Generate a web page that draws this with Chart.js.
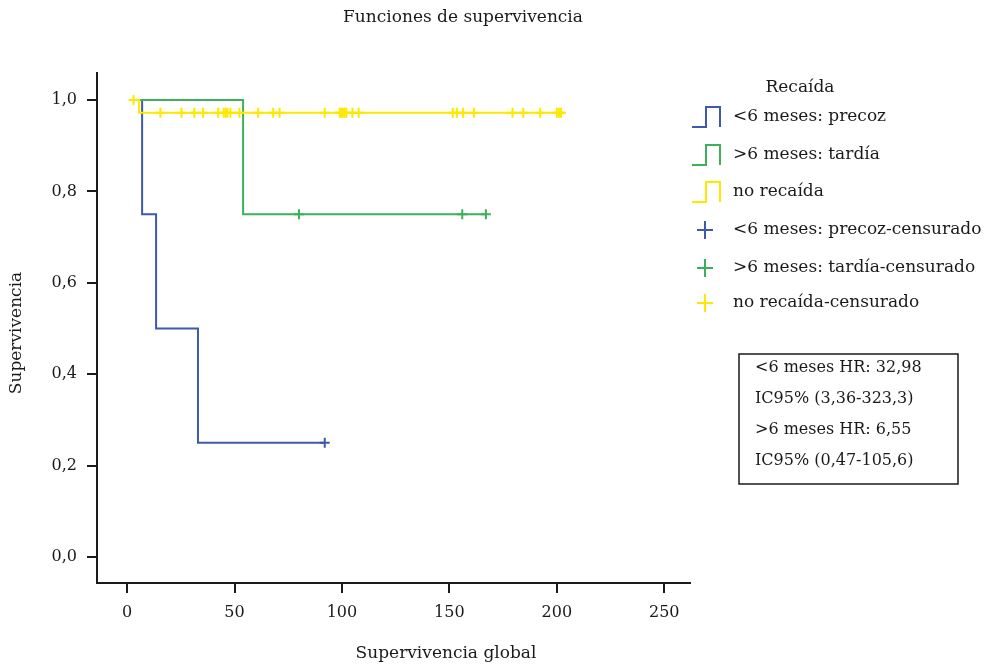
<!DOCTYPE html>
<html>
<head>
<meta charset="utf-8">
<script src="https://cdn.jsdelivr.net/npm/chart.js@4.4.0/dist/chart.umd.min.js"></script>
<style>
  html, body { margin: 0; padding: 0; background: #fff; }
  #wrap { width: 992px; height: 665px; }
</style>
</head>
<body>
<div id="wrap"><canvas id="km" width="992" height="665"></canvas></div>
<script>
// Kaplan-Meier steps
const precozTime = [7, 7, 13.5, 33, 92];
const precozSurv = [1, 0.75, 0.5, 0.25, 0.25];
const tardiaTime = [6, 54, 167];
const tardiaSurv = [1, 0.75, 0.75];
const noRecaidaTime = [3, 5.6, 203.5];
const noRecaidaSurv = [1, 0.972, 0.972];

// censored cases
const precozCensTime = [92];
const precozCensSurv = [0.25];
const tardiaCensTime = [80, 156, 167];
const tardiaCensSurv = [0.75, 0.75, 0.75];
const noRecaidaCensTime = [3, 15.5, 25.3, 31.3, 35.4, 42.4, 45, 45.9, 46.7, 48.1, 52.3, 61, 68, 71,
  92, 99, 99.7, 100.4, 101.2, 102, 104.9, 107.8, 151.6, 153.5, 156.4, 161.4, 179.4, 184.4, 192.3,
  200, 201, 202];
const noRecaidaCensSurv = [1, 0.972, 0.972, 0.972, 0.972, 0.972, 0.972, 0.972, 0.972, 0.972, 0.972,
  0.972, 0.972, 0.972, 0.972, 0.972, 0.972, 0.972, 0.972, 0.972, 0.972, 0.972, 0.972, 0.972, 0.972,
  0.972, 0.972, 0.972, 0.972, 0.972, 0.972, 0.972];

const xTicks = [0, 50, 100, 150, 200, 250];
const yTicks = [0, 0.2, 0.4, 0.6, 0.8, 1.0];

const legendTitle = 'Recaída';
const legendLabels = ['<6 meses: precoz', '>6 meses: tardía', 'no recaída',
  '<6 meses: precoz-censurado', '>6 meses: tardía-censurado', 'no recaída-censurado'];
const hrLines = ['<6 meses HR: 32,98', 'IC95% (3,36-323,3)', '>6 meses HR: 6,55', 'IC95% (0,47-105,6)'];

const BLUE = '#3f5aaa';
const GREEN = '#3cb15a';
const YELLOW = '#fde800';
const INK = '#1a1a1a';
const FONT = 'DejaVu Serif';

function pts(xs, ys) {
  return xs.map((x, i) => ({ x: x, y: ys[i] }));
}

function stepSet(label, xs, ys, color, order) {
  return { type: 'line', label, data: pts(xs, ys), borderColor: color, borderWidth: 2,
    stepped: 'before', pointRadius: 0, fill: false, order };
}

function censSet(label, xs, ys, color) {
  return { type: 'scatter', label, data: pts(xs, ys), borderColor: color, backgroundColor: color,
    pointStyle: 'cross', pointRadius: 5, borderWidth: 2, order: 0 };
}

// legend, HR box and titles drawn on the canvas
const extras = {
  id: 'extras',
  afterDraw(chart) {
    const ctx = chart.ctx;
    ctx.save();
    ctx.fillStyle = INK;
    ctx.textBaseline = 'middle';
    ctx.font = '17px "' + FONT + '"';

    ctx.textAlign = 'center';
    ctx.fillText('Funciones de supervivencia', 463, 18);
    ctx.fillText('Supervivencia global', 446, 654);
    ctx.save();
    ctx.translate(17, 333);
    ctx.rotate(-Math.PI / 2);
    ctx.fillText('Supervivencia', 0, 0);
    ctx.restore();

    ctx.fillText(legendTitle, 800, 88);

    const colors = [BLUE, GREEN, YELLOW, BLUE, GREEN, YELLOW];
    const rowY = [117, 155, 192, 230, 268, 303];
    ctx.textAlign = 'left';
    legendLabels.forEach((lab, i) => {
      const y = rowY[i];
      ctx.strokeStyle = colors[i];
      ctx.lineWidth = 2;
      ctx.beginPath();
      if (i < 3) {
        ctx.moveTo(692, y + 10);
        ctx.lineTo(706, y + 10);
        ctx.lineTo(706, y - 10);
        ctx.lineTo(720, y - 10);
        ctx.lineTo(720, y + 10);
      } else {
        ctx.moveTo(697, y);
        ctx.lineTo(713, y);
        ctx.moveTo(705, y - 9);
        ctx.lineTo(705, y + 9);
      }
      ctx.stroke();
      ctx.fillStyle = INK;
      ctx.fillText(lab, 733, y);
    });

    ctx.strokeStyle = INK;
    ctx.lineWidth = 1.5;
    ctx.strokeRect(739, 354, 219, 130);
    ctx.font = '16px "' + FONT + '"';
    const hrY = [368, 399, 430, 461];
    hrLines.forEach((t, i) => ctx.fillText(t, 755, hrY[i]));
    ctx.restore();
  }
};

const tickFont = { family: FONT, size: 16 };

new Chart(document.getElementById('km'), {
  data: {
    datasets: [
      stepSet('<6 meses: precoz', precozTime, precozSurv, BLUE, 3),
      stepSet('>6 meses: tardía', tardiaTime, tardiaSurv, GREEN, 2),
      stepSet('no recaída', noRecaidaTime, noRecaidaSurv, YELLOW, 1),
      censSet('<6 meses: precoz-censurado', precozCensTime, precozCensSurv, BLUE),
      censSet('>6 meses: tardía-censurado', tardiaCensTime, tardiaCensSurv, GREEN),
      censSet('no recaída-censurado', noRecaidaCensTime, noRecaidaCensSurv, YELLOW)
    ]
  },
  options: {
    responsive: false,
    animation: false,
    layout: { padding: { top: 73, right: 302, left: 0, bottom: 0 } },
    plugins: {
      legend: { display: false },
      tooltip: { enabled: false }
    },
    scales: {
      x: {
        type: 'linear',
        min: -14,
        max: 262,
        afterBuildTicks: s => { s.ticks = xTicks.map(v => ({ value: v })); },
        afterFit: s => { s.height = 82; },
        grid: { drawOnChartArea: false, drawTicks: true, tickLength: 10, color: INK, lineWidth: 2 },
        border: { display: true, color: INK, width: 2 },
        ticks: { font: tickFont, color: INK, padding: 10, maxRotation: 0 }
      },
      y: {
        type: 'linear',
        min: -0.057,
        max: 1.059,
        afterBuildTicks: s => { s.ticks = yTicks.map(v => ({ value: v })); },
        afterFit: s => { s.width = 97; },
        grid: { drawOnChartArea: false, drawTicks: true, tickLength: 10, color: INK, lineWidth: 2 },
        border: { display: true, color: INK, width: 2 },
        ticks: { font: tickFont, color: INK, padding: 10,
          callback: v => v.toFixed(1).replace('.', ',') }
      }
    }
  },
  plugins: [extras]
});
</script>
</body>
</html>
